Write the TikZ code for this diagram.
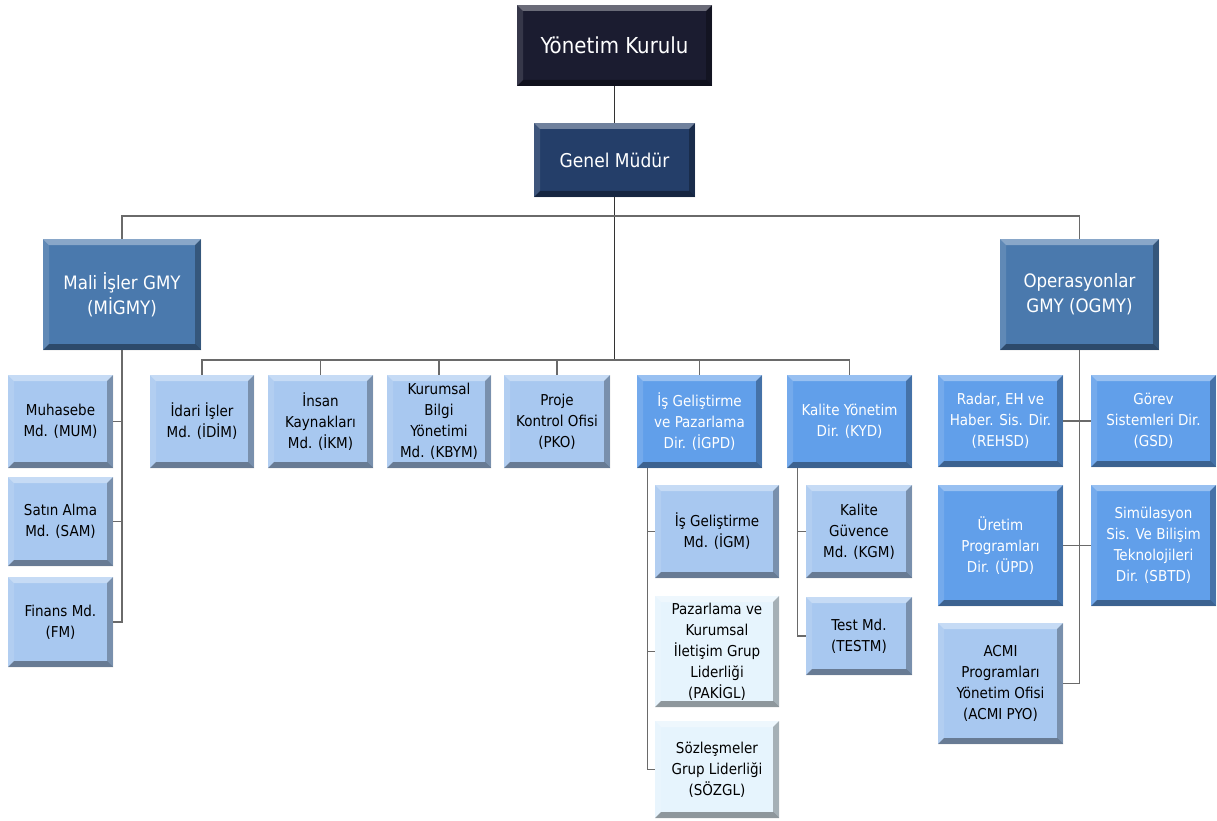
\documentclass[tikz,border=0pt]{standalone}
\usepackage{fontspec}
\setmainfont{DejaVu Sans Condensed}
\definecolor{ykc}{HTML}{1B1C30}
\definecolor{gmc}{HTML}{243E69}
\definecolor{gmyc}{HTML}{4A79AD}
\definecolor{dirc}{HTML}{619FEA}
\definecolor{mdc}{HTML}{A8C8F0}
\definecolor{glc}{HTML}{E6F4FD}
\definecolor{linec}{HTML}{6A6A6A}
\tikzset{
  bevel/.style={path picture={
    \coordinate (pnw) at (path picture bounding box.north west);
    \coordinate (pne) at (path picture bounding box.north east);
    \coordinate (psw) at (path picture bounding box.south west);
    \coordinate (pse) at (path picture bounding box.south east);
    \fill[white,opacity=.35] (pnw) -- (pne) -- ([shift={(-6pt,-6pt)}]pne) -- ([shift={(6pt,-6pt)}]pnw) -- cycle;
    \fill[white,opacity=.12] (pnw) -- ([shift={(6pt,-6pt)}]pnw) -- ([shift={(6pt,6pt)}]psw) -- (psw) -- cycle;
    \fill[black,opacity=.28] (pne) -- (pse) -- ([shift={(-6pt,6pt)}]pse) -- ([shift={(-6pt,-6pt)}]pne) -- cycle;
    \fill[black,opacity=.38] (psw) -- (pse) -- ([shift={(-6pt,6pt)}]pse) -- ([shift={(6pt,6pt)}]psw) -- cycle;
  }},
  box/.style={inner sep=0pt,align=center,bevel},
  ykbox/.style={box,fill=ykc,text=white,font=\fontsize{22}{28}\selectfont},
  gmbox/.style={box,fill=gmc,text=white,font=\fontsize{19}{25}\selectfont},
  gmybox/.style={box,fill=gmyc,text=white,font=\fontsize{18.5}{25}\selectfont},
  dirbox/.style={box,fill=dirc,text=white,font=\fontsize{15}{21}\selectfont},
  mdbox/.style={box,fill=mdc,text=black,font=\fontsize{15}{21}\selectfont},
  glbox/.style={box,fill=glc,text=black,font=\fontsize{15}{21}\selectfont},
  conn/.style={draw=linec,line width=1.3pt},
  darkconn/.style={draw=black!80,line width=1.3pt}
}
\begin{document}
\begin{tikzpicture}[x=1pt,y=-1pt]
\useasboundingbox[fill=white] (0,0) rectangle (1217,821);
% top
\node[ykbox,minimum width=195,minimum height=81] (yk) at (614.5,45.5) {Yönetim Kurulu};
\node[gmbox,minimum width=161,minimum height=74] (gm) at (614.5,160) {Genel Müdür};
\node[gmybox,minimum width=158,minimum height=111] (migmy) at (122,294.5) {Mali İşler GMY\\(MİGMY)};
\node[gmybox,minimum width=159,minimum height=111] (ogmy) at (1079.5,294.5) {Operasyonlar\\GMY (OGMY)};
% left column
\node[mdbox,minimum width=105,minimum height=93] (mum) at (60.5,421.5) {Muhasebe\\Md. (MUM)};
\node[mdbox,minimum width=105,minimum height=89] (sam) at (60.5,521.5) {Satın Alma\\Md. (SAM)};
\node[mdbox,minimum width=105,minimum height=90] (fm) at (60.5,622) {Finans Md.\\(FM)};
% middle row
\node[mdbox,minimum width=104,minimum height=93] (idim) at (202,421.5) {İdari İşler\\Md. (İDİM)};
\node[mdbox,minimum width=105,minimum height=93] (ikm) at (320.5,421.5) {İnsan\\Kaynakları\\Md. (İKM)};
\node[mdbox,minimum width=104,minimum height=93] (kbym) at (439,421.5) {Kurumsal\\Bilgi\\Yönetimi\\Md. (KBYM)};
\node[mdbox,minimum width=106,minimum height=93] (pko) at (557,421.5) {Proje\\Kontrol Ofisi\\(PKO)};
\node[dirbox,minimum width=125,minimum height=93] (igpd) at (699.5,421.5) {İş Geliştirme\\ve Pazarlama\\Dir. (İGPD)};
\node[dirbox,minimum width=125,minimum height=93] (kyd) at (849.5,421.5) {Kalite Yönetim\\Dir. (KYD)};
% IGPD children
\node[mdbox,minimum width=124,minimum height=93] (igm) at (717,531.5) {İş Geliştirme\\Md. (İGM)};
\node[glbox,minimum width=124,minimum height=111] (pakigl) at (717,651.5) {Pazarlama ve\\Kurumsal\\İletişim Grup\\Liderliği\\(PAKİGL)};
\node[glbox,minimum width=124,minimum height=97] (sozgl) at (717,769.5) {Sözleşmeler\\Grup Liderliği\\(SÖZGL)};
% KYD children
\node[mdbox,minimum width=106,minimum height=93] (kgm) at (859,531.5) {Kalite\\Güvence\\Md. (KGM)};
\node[mdbox,minimum width=106,minimum height=78] (testm) at (859,636) {Test Md.\\(TESTM)};
% OGMY children
\node[dirbox,minimum width=125,minimum height=92] (rehsd) at (1000.5,421) {Radar, EH ve\\Haber. Sis. Dir.\\(REHSD)};
\node[dirbox,minimum width=125,minimum height=92] (gsd) at (1153.5,421) {Görev\\Sistemleri Dir.\\(GSD)};
\node[dirbox,minimum width=125,minimum height=121] (upd) at (1000.5,545.5) {Üretim\\Programları\\Dir. (ÜPD)};
\node[dirbox,minimum width=125,minimum height=121] (sbtd) at (1153.5,545.5) {Simülasyon\\Sis. Ve Bilişim\\Teknolojileri\\Dir. (SBTD)};
\node[mdbox,minimum width=125,minimum height=121] (acmi) at (1000.5,683.5) {ACMI\\Programları\\Yönetim Ofisi\\(ACMI PYO)};
% coordinates
\coordinate (topbus) at (614.5,216);
\coordinate (midbus) at (614.5,360);
\coordinate (igpdx) at ([xshift=11pt]igpd.south west);
\coordinate (kydx) at ([xshift=11pt]kyd.south west);
% connectors
\draw[darkconn] (yk.south) -- (gm.north);
\draw[darkconn] (gm.south) -- (midbus);
\draw[conn] (migmy.north) |- (topbus) -| (ogmy.north);
\foreach \n in {idim,ikm,kbym,pko,igpd,kyd} \draw[conn] (midbus) -| (\n.north);
\foreach \n in {mum,sam,fm} \draw[conn] (migmy.south) |- (\n.east);
\foreach \n in {igm,pakigl,sozgl} \draw[conn] (igpdx) |- (\n.west);
\foreach \n in {kgm,testm} \draw[conn] (kydx) |- (\n.west);
\draw[conn] (ogmy.south) |- (acmi.east);
\draw[conn] (rehsd.east) -- (gsd.west);
\draw[conn] (upd.east) -- (sbtd.west);
\end{tikzpicture}
\end{document}
